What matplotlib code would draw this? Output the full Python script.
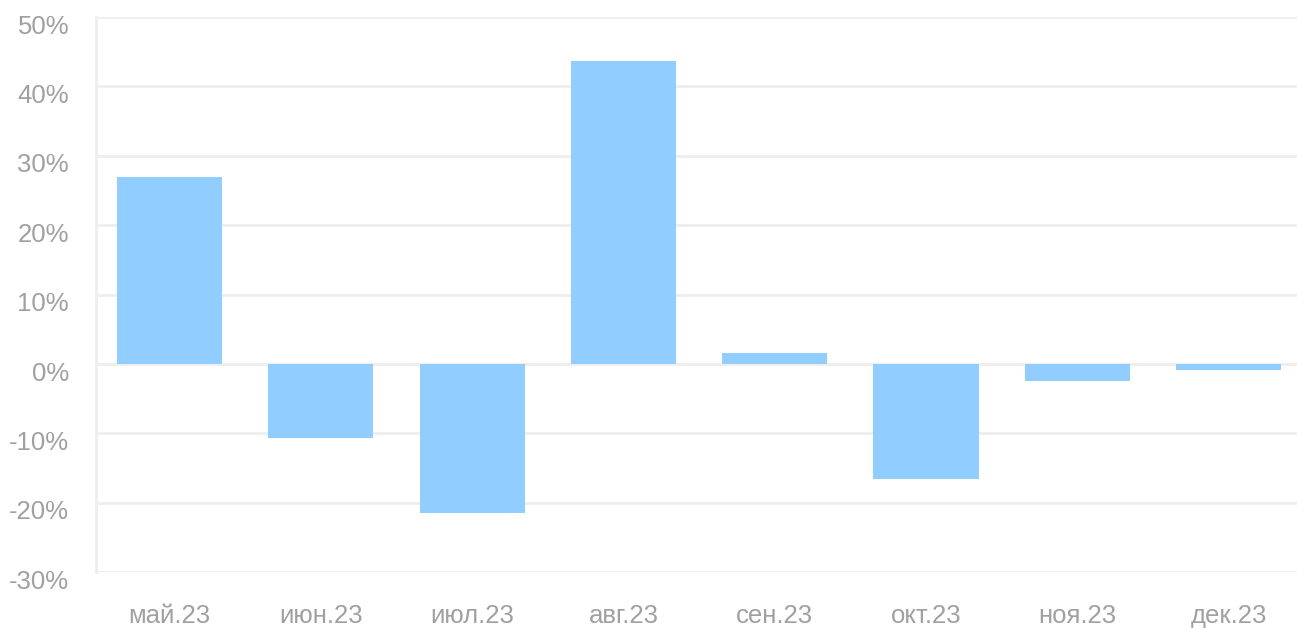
import matplotlib.pyplot as plt
import matplotlib.transforms as mtransforms
from matplotlib.ticker import FuncFormatter

months = ["май.23", "июн.23", "июл.23", "авг.23", "сен.23", "окт.23", "ноя.23", "дек.23"]
change_pct = [27.0, -10.6, -21.5, 43.6, 1.6, -16.5, -2.4, -0.8]
y_ticks = [-30, -20, -10, 0, 10, 20, 30, 40, 50]

plt.rcParams['font.family'] = ['Liberation Sans', 'DejaVu Sans']

W, H = 1297, 630
step = 151.3  # px per category
fig = plt.figure(figsize=(W / 100, H / 100), dpi=100)
ax = fig.add_axes([95.5 / W, (H - 572.3) / H, (W - 95.5) / W, (572.3 - 17) / H])

x = list(range(len(months)))
ax.bar(x, change_pct, width=0.694, color='#92cdff', zorder=2)

x0 = -74 / step
ax.set_xlim(x0, x0 + (W - 95.5) / step)
ax.set_ylim(-30, 50)
ax.set_yticks(y_ticks)
ax.yaxis.set_major_formatter(FuncFormatter(lambda v, _: f"{v:.0f}%"))
ax.set_xticks(x)
ax.set_xticklabels(months)

ax.grid(axis='y', color='#eeeeee', linewidth=2, zorder=0)
ax.set_axisbelow(True)
for s in ['top', 'right', 'bottom']:
    ax.spines[s].set_visible(False)
ax.spines['left'].set_color('#eeeeee')
ax.spines['left'].set_linewidth(2)

ax.tick_params(axis='both', length=0, colors='#a0a0a0', labelsize=18.5)
ax.tick_params(axis='y', pad=19)
ax.tick_params(axis='x', pad=23)

# y labels sit slightly below their gridlines
offset = mtransforms.ScaledTranslation(0, -7 / 100, fig.dpi_scale_trans)
for lbl in ax.get_yticklabels():
    lbl.set_transform(lbl.get_transform() + offset)

fig.savefig("out.png", dpi=100)
